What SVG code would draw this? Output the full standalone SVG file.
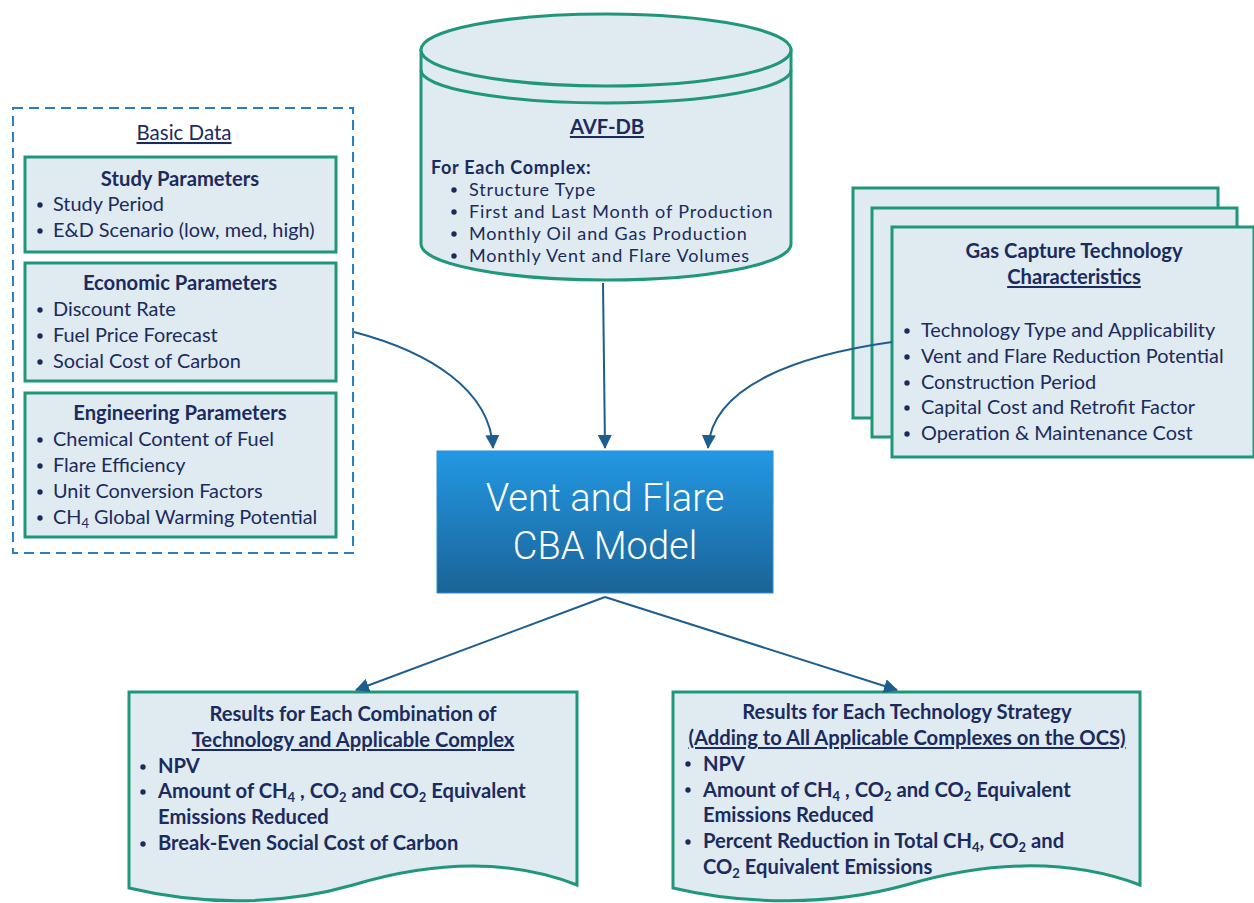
<svg xmlns="http://www.w3.org/2000/svg" width="1254" height="903" viewBox="0 0 1254 903">
<defs>
<style>
.t{font-family:Lato,"Open Sans","Liberation Sans",sans-serif;fill:#1B2B5E;font-size:19.9px}
.b{font-weight:bold;font-size:20.2px}
.c{text-anchor:middle}
.u{text-decoration:underline}
.cy{font-size:18px;letter-spacing:0.85px}
.box{fill:#DFEAF1;stroke:#21977A;stroke-width:3}
.dot{fill:#1B2B5E}
.con{fill:none;stroke:#1D5E8F;stroke-width:2;marker-end:url(#ah)}
.sub{font-size:13px}
</style>
<marker id="ah" viewBox="0 0 14 14" refX="13" refY="7" markerWidth="14" markerHeight="14" markerUnits="userSpaceOnUse" orient="auto">
<path d="M0,0 L14,7 L0,14 Z" fill="#1D5E8F"/>
</marker>
<linearGradient id="g" x1="0" y1="0" x2="0" y2="1">
<stop offset="0" stop-color="#2398E3"/>
<stop offset="1" stop-color="#1A6397"/>
</linearGradient>
</defs>

<g id="basic-data">
<rect x="13" y="108" width="340" height="445" fill="none" stroke="#2A7FC1" stroke-width="2" stroke-dasharray="10,6"/>
<text class="t c u" x="184" y="140" style="font-size:20.5px">Basic Data</text>
</g>

<g id="study-parameters">
<rect class="box" x="25" y="157" width="311" height="95"/>
<text class="t b c" x="180" y="186">Study Parameters</text>
<circle class="dot" cx="40" cy="205" r="2.7"/><text class="t" x="53" y="211">Study Period</text>
<circle class="dot" cx="40" cy="231" r="2.7"/><text class="t" x="53" y="237">E&amp;D Scenario (low, med, high)</text>
</g>

<g id="economic-parameters">
<rect class="box" x="25" y="263" width="311" height="118"/>
<text class="t b c" x="180" y="290">Economic Parameters</text>
<circle class="dot" cx="40" cy="310" r="2.7"/><text class="t" x="53" y="316">Discount Rate</text>
<circle class="dot" cx="40" cy="336" r="2.7"/><text class="t" x="53" y="342">Fuel Price Forecast</text>
<circle class="dot" cx="40" cy="362" r="2.7"/><text class="t" x="53" y="368">Social Cost of Carbon</text>
</g>

<g id="engineering-parameters">
<rect class="box" x="25" y="393" width="311" height="144"/>
<text class="t b c" x="180" y="420">Engineering Parameters</text>
<circle class="dot" cx="40" cy="440" r="2.7"/><text class="t" x="53" y="446">Chemical Content of Fuel</text>
<circle class="dot" cx="40" cy="466" r="2.7"/><text class="t" x="53" y="472">Flare Efficiency</text>
<circle class="dot" cx="40" cy="492" r="2.7"/><text class="t" x="53" y="498">Unit Conversion Factors</text>
<circle class="dot" cx="40" cy="518" r="2.7"/><text class="t" x="53" y="524">CH<tspan class="sub" dy="4">4</tspan><tspan dy="-4"> Global Warming Potential</tspan></text>
</g>

<g id="avf-db">
<path class="box" d="M421,50 V244 A185,36 0 0 0 791,244 V50 Z"/>
<ellipse class="box" cx="606" cy="50" rx="185" ry="36"/>
<path d="M421,70 A185,33 0 0 0 791,70" fill="none" stroke="#21977A" stroke-width="3"/>
<text class="t b c u" x="607" y="134">AVF-DB</text>
<text class="t b" x="431" y="174" style="font-size:18px;letter-spacing:0.7px">For Each Complex:</text>
<circle class="dot" cx="454" cy="190" r="2.7"/><text class="t cy" x="469" y="196">Structure Type</text>
<circle class="dot" cx="454" cy="212" r="2.7"/><text class="t cy" x="469" y="218">First and Last Month of Production</text>
<circle class="dot" cx="454" cy="234" r="2.7"/><text class="t cy" x="469" y="240">Monthly Oil and Gas Production</text>
<circle class="dot" cx="454" cy="256" r="2.7"/><text class="t cy" x="469" y="262">Monthly Vent and Flare Volumes</text>
</g>

<g id="gas-capture">
<rect class="box" x="853" y="188" width="365" height="230"/>
<rect class="box" x="872" y="208" width="365" height="229"/>
<rect class="box" x="892" y="227" width="362" height="230"/>
<text class="t b c" x="1074" y="258">Gas Capture Technology</text>
<text class="t b c u" x="1074" y="284">Characteristics</text>
<circle class="dot" cx="907" cy="331" r="2.7"/><text class="t" x="921" y="337">Technology Type and Applicability</text>
<circle class="dot" cx="907" cy="357" r="2.7"/><text class="t" x="921" y="363">Vent and Flare Reduction Potential</text>
<circle class="dot" cx="907" cy="383" r="2.7"/><text class="t" x="921" y="389">Construction Period</text>
<circle class="dot" cx="907" cy="408" r="2.7"/><text class="t" x="921" y="414">Capital Cost and Retrofit Factor</text>
<circle class="dot" cx="907" cy="434" r="2.7"/><text class="t" x="921" y="440">Operation &amp; Maintenance Cost</text>
</g>

<g id="cba-model">
<rect x="437" y="451" width="336" height="142" fill="url(#g)" stroke="#2C8ED3" stroke-width="1"/>
<text x="605" y="511" text-anchor="middle" font-family="Roboto,'Liberation Sans',sans-serif" font-weight="300" font-size="38" fill="#FFFFFF">Vent and Flare</text>
<text x="605" y="559" text-anchor="middle" font-family="Roboto,'Liberation Sans',sans-serif" font-weight="300" font-size="38" fill="#FFFFFF">CBA Model</text>
</g>

<g id="results-combination">
<path class="box" d="M129,692 H577 V885 C500,855 420,865 353,885 C280,906 200,905 129,888 Z"/>
<text class="t b c" x="353" y="721">Results for Each Combination of</text>
<text class="t b c u" x="353" y="747">Technology and Applicable Complex</text>
<circle class="dot" cx="143" cy="767" r="2.7"/><text class="t b" x="158" y="773">NPV</text>
<circle class="dot" cx="143" cy="792" r="2.7"/><text class="t b" x="158" y="798">Amount of CH<tspan class="sub" dy="4">4</tspan><tspan dy="-4"> , CO</tspan><tspan class="sub" dy="4">2</tspan><tspan dy="-4"> and CO</tspan><tspan class="sub" dy="4">2</tspan><tspan dy="-4"> Equivalent</tspan></text>
<text class="t b" x="158" y="824">Emissions Reduced</text>
<circle class="dot" cx="143" cy="844" r="2.7"/><text class="t b" x="158" y="850">Break-Even Social Cost of Carbon</text>
</g>

<g id="results-strategy">
<path class="box" d="M673,692 H1140 V885 C1060,855 975,865 906,885 C830,906 745,905 673,888 Z"/>
<text class="t b c" x="907" y="719">Results for Each Technology Strategy</text>
<text class="t b c u" x="907" y="745">(Adding to All Applicable Complexes on the OCS)</text>
<circle class="dot" cx="688" cy="764" r="2.7"/><text class="t b" x="703" y="771">NPV</text>
<circle class="dot" cx="688" cy="790" r="2.7"/><text class="t b" x="703" y="797">Amount of CH<tspan class="sub" dy="4">4</tspan><tspan dy="-4"> , CO</tspan><tspan class="sub" dy="4">2</tspan><tspan dy="-4"> and CO</tspan><tspan class="sub" dy="4">2</tspan><tspan dy="-4"> Equivalent</tspan></text>
<text class="t b" x="703" y="822">Emissions Reduced</text>
<circle class="dot" cx="688" cy="842" r="2.7"/><text class="t b" x="703" y="848">Percent Reduction in Total CH<tspan class="sub" dy="4">4</tspan><tspan dy="-4">, CO</tspan><tspan class="sub" dy="4">2</tspan><tspan dy="-4"> and</tspan></text>
<text class="t b" x="703" y="874">CO<tspan class="sub" dy="4">2</tspan><tspan dy="-4"> Equivalent Emissions</tspan></text>
</g>

<g id="connectors">
<path class="con" d="M354,332 C430,352 490,390 493,448"/>
<path class="con" d="M603,283 L605,448"/>
<path class="con" d="M892,342 C800,355 712,385 708,448"/>
<path class="con" d="M605,597 L356,690"/>
<path class="con" d="M605,597 L897,690"/>
</g>
</svg>
